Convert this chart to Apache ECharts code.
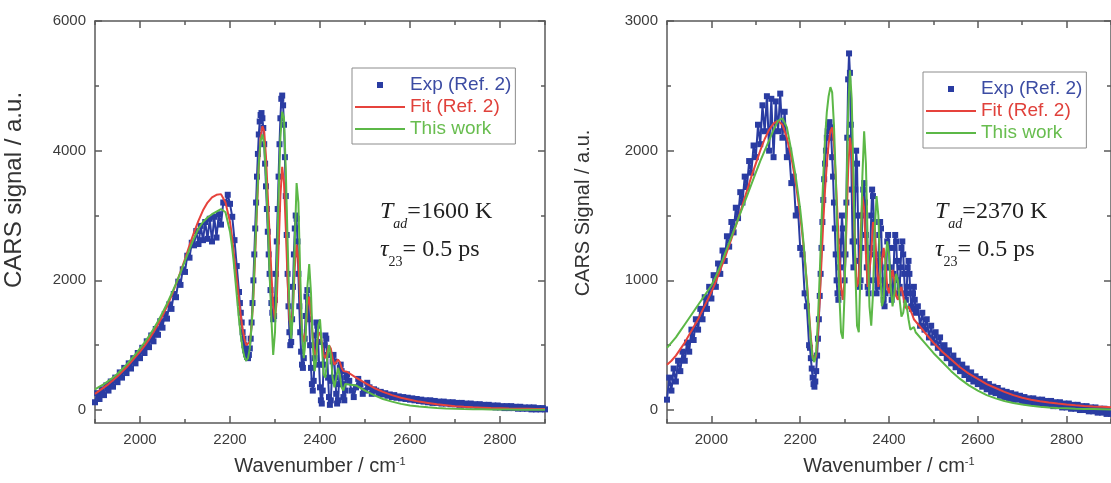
<!DOCTYPE html>
<html>
<head>
<meta charset="utf-8">
<script src="https://cdn.jsdelivr.net/npm/echarts@6/dist/echarts.min.js"></script>
<style>
html,body{margin:0;padding:0;background:#fff}
#c{width:1111px;height:483px}
</style>
</head>
<body>
<div id="c"></div>
<script>
// Wavenumber grid of the measured spectra (cm-1)
const EXP_X = [
1900,1905,1910,1915,1920,1925,1930,1935,1940,1945,
1950,1955,1960,1965,1970,1975,1980,1985,1990,1995,
2000,2005,2010,2015,2020,2025,2030,2035,2040,2045,
2050,2055,2060,2065,2070,2075,2080,2085,2090,2095,
2100,2105,2110,2115,2120,2125,2130,2135,2140,2145,
2150,2155,2160,2165,2170,2175,2180,2185,2190,2195,
2200,2205,2210,2215,2220,
2222,2224,2226,2228,2230,2232,2234,2236,2238,2240,
2242,2244,2246,2248,2250,2252,2254,2256,2258,2260,
2262,2264,2266,2268,2270,2272,2274,2276,2278,2280,
2282,2284,2286,2288,2290,2292,2294,2296,2298,2300,
2302,2304,2306,2308,2310,2312,2314,2316,2318,2320,
2322,2324,2326,2328,2330,2332,2334,2336,2338,2340,
2342,2344,2346,2348,2350,2352,2354,2356,2358,2360,
2362,2364,2366,2368,2370,2372,2374,2376,2378,2380,
2382,2384,2386,2388,2390,2392,2394,2396,2398,2400,
2402,2404,2406,2408,2410,2412,2414,2416,2418,2420,
2422,2424,2426,2428,2430,2432,2434,2436,2438,2440,
2442,2444,2446,2448,2450,2452,2454,2456,2458,2460,
2465,2470,2475,2480,2485,2490,2495,2500,2505,2510,
2515,2520,2525,2530,2535,2540,2545,2550,2555,2560,
2565,2570,2575,2580,2585,2590,2595,2600,2605,2610,
2615,2620,2625,2630,2635,2640,2645,2650,2655,2660,
2665,2670,2675,2680,2685,2690,2695,2700,2705,2710,
2715,2720,2725,2730,2735,2740,2745,2750,2755,2760,
2765,2770,2775,2780,2785,2790,2795,2800,2805,2810,
2815,2820,2825,2830,2835,2840,2845,2850,2855,2860,
2865,2870,2875,2880,2885,2890,2895,2900
];

// Measured CARS signal, T_ad = 1600 K
const EXP_1600 = [
120,260,170,320,230,380,300,440,360,500,
430,580,500,650,570,720,640,800,720,880,
800,960,880,1060,970,1150,1060,1250,1160,1370,
1270,1480,1410,1630,1560,1790,1740,1980,1930,2170,
2130,2380,2350,2580,2540,2760,2560,2840,2620,2900,
2640,2950,2600,2980,2660,3020,2860,3200,3200,3320,
3180,2980,2620,2220,1820,
1650,1500,1350,1200,1100,1000,920,860,820,800,
850,950,1100,1350,1650,2000,2400,2800,3200,3600,
3950,4250,4450,4550,4580,4500,4350,4100,3800,3450,
3100,2750,2400,2100,1850,1650,1500,1400,1450,1700,
2100,2600,3100,3600,4100,4500,4800,4850,4700,4400,
3900,3300,2700,2100,1600,1200,1000,1050,1400,1900,
2400,2800,3000,2950,2600,2100,1600,1200,900,700,
650,800,1100,1450,1750,1850,1700,1400,1000,650,
400,300,450,800,1150,1350,1300,1050,700,350,
150,100,300,700,1000,1150,1100,850,500,200,
80,150,450,750,850,750,500,250,100,150,
400,650,700,600,400,200,150,300,500,550,
450,300,200,350,480,400,250,300,420,350,
250,320,300,250,280,240,260,220,240,200,
230,190,210,180,200,170,190,160,180,150,
170,140,160,130,150,120,150,110,140,110,
130,100,130,100,120,90,120,90,110,80,
110,80,100,70,100,70,90,60,90,60,
80,50,80,50,70,40,70,40,60,30,
60,30,60,30,50,20,50,20,40,20,
40,10,40,10,30,10,30,10
];

// Measured CARS signal, T_ad = 2370 K
const EXP_2370 = [
80,250,150,320,220,380,300,450,380,520,
450,620,540,700,620,780,700,870,780,950,
860,1040,950,1130,1050,1230,1150,1340,1260,1450,
1370,1560,1480,1680,1600,1800,1720,1920,1830,2040,
1950,2200,2050,2350,2150,2420,2000,2400,1950,2380,
2150,2440,2100,2300,1950,2000,1750,1800,1500,1550,
1250,1200,900,800,500,
480,400,320,250,200,180,220,300,420,550,
700,880,1050,1250,1450,1620,1780,1900,2000,2100,
2150,2200,2220,2180,2100,1950,1800,1600,1400,1200,
1000,900,850,900,1100,1300,1500,1400,1200,1000,
1200,1600,2100,2550,2750,2600,2200,1700,1300,1100,
1300,1700,2000,1900,1500,1150,950,1000,1250,1500,
1700,1750,1600,1350,1100,950,900,1000,1250,1500,
1700,1650,1450,1200,1000,900,950,1150,1350,1450,
1400,1200,1000,850,800,900,1100,1300,1350,1250,
1100,950,850,900,1050,1250,1350,1300,1150,1000,
900,950,1100,1250,1300,1200,1050,900,850,950,
1100,1150,1050,900,800,780,900,950,850,750,
800,650,750,620,700,560,650,520,600,480,
560,440,500,400,460,360,420,330,380,300,
350,270,320,240,290,220,260,200,240,180,
220,160,200,140,180,130,170,110,150,100,
140,90,130,80,120,80,110,70,100,60,
90,60,90,50,80,50,80,40,70,40,
70,30,60,30,60,20,50,20,50,10,
40,10,40,0,30,0,30,-10,20,-10,
20,-20,10,-20,10,-30,0,-30
];

// Wavenumber grid of the computed spectra (cm-1)
const LINE_X = [
1900,1910,1920,1930,1940,1950,1960,1970,1980,1990,
2000,2010,2020,2030,2040,2050,2060,2070,2080,2090,
2100,2110,2120,2130,2140,2150,2160,2170,2180,2190,
2200,
2204,2208,2212,2216,2220,2224,2228,2232,2236,2240,
2244,2248,2252,2256,2260,2264,2268,2272,2276,2280,
2284,2288,2292,2296,2300,2304,2308,2312,2316,2320,
2324,2328,2332,2336,2340,2344,2348,2352,2356,2360,
2364,2368,2372,2376,2380,2384,2388,2392,2396,2400,
2404,2408,2412,2416,2420,2424,2428,2432,2436,2440,
2444,2448,2452,2456,2460,
2480,2500,2520,2540,2560,2580,2600,2620,2640,2660,
2680,2700,2720,2740,2760,2780,2800,2820,2840,2860,
2880,2900
];

// Fit from Ref. 2, 1600 K
const FIT_1600 = [
250,300,350,400,460,520,590,660,740,820,
900,990,1090,1200,1320,1450,1600,1760,1940,2130,
2330,2540,2740,2920,3080,3200,3280,3320,3330,3200,
2900,
2700,2450,2200,1950,1700,1450,1250,1100,1000,980,
1050,1300,1750,2400,3100,3750,4200,4380,4300,3900,
3300,2700,2100,1600,1400,1700,2500,3300,3750,3500,
2800,2000,1400,1250,1600,2200,2550,2300,1700,1200,
1050,1200,1600,1750,1500,1100,850,900,1150,1200,
1050,850,800,900,1000,950,800,700,720,780,
740,650,600,600,590,
500,420,340,280,230,190,160,130,110,90,
75,60,50,42,36,30,26,22,20,18,
16,15
];

// This work, 1600 K
const WORK_1600 = [
320,360,400,450,500,560,630,700,780,860,
950,1040,1140,1250,1370,1500,1640,1790,1950,2120,
2300,2480,2650,2800,2900,2970,3020,3060,3100,3050,
2750,
2550,2300,2000,1700,1400,1150,950,820,760,800,
950,1300,1800,2500,3200,3800,4150,4250,4100,3600,
2900,2100,1400,850,1200,2200,3300,4200,4600,4500,
3700,2600,1600,1100,1500,2600,3500,3200,2100,1200,
800,1100,1900,2250,1800,1000,600,800,1300,1400,
1000,550,500,800,1000,850,500,350,500,650,
550,350,300,400,420,
380,300,230,170,130,95,70,55,42,32,
25,20,16,13,11,9,8,7,6,5,
5,5
];

// Fit from Ref. 2, 2370 K
const FIT_2370 = [
350,380,420,470,520,580,640,700,770,840,
910,990,1080,1170,1270,1370,1470,1580,1690,1800,
1900,2000,2090,2160,2210,2230,2200,2100,1950,1750,
1500,
1380,1250,1100,950,750,560,420,380,420,600,
850,1150,1450,1700,1900,2050,2150,2180,2050,1800,
1500,1200,950,850,1000,1400,1850,2100,2000,1600,
1200,950,1000,1350,1650,1550,1200,950,950,1200,
1450,1400,1150,950,950,1150,1250,1150,950,900,
1000,1080,1000,880,850,920,950,880,800,780,
800,790,740,700,690,
600,520,450,390,330,280,240,200,170,140,
115,95,80,68,58,50,43,37,32,28,
25,22
];

// This work, 2370 K
const WORK_2370 = [
480,520,560,610,660,710,760,810,860,910,
960,1030,1110,1200,1290,1380,1470,1560,1650,1740,
1830,1920,2000,2080,2160,2230,2250,2180,2000,1800,
1550,
1420,1270,1100,920,720,530,400,370,450,700,
1050,1450,1800,2100,2300,2420,2490,2450,2200,1800,
1300,900,600,550,900,1600,2300,2620,2400,1800,
1100,650,600,1100,1800,2150,1900,1300,800,650,
900,1400,1650,1500,1100,800,850,1150,1300,1200,
950,800,900,1050,1000,850,720,750,850,800,
700,620,620,640,600,
520,440,370,300,240,190,150,115,90,70,
55,42,33,26,20,16,13,10,8,7,
6,5
];

// Axis ticks
const X_MAJOR = [2000, 2200, 2400, 2600, 2800];
const X_MINOR = [1900, 2100, 2300, 2500, 2700, 2900];
const Y1_MAJOR = [0, 2000, 4000, 6000];
const Y1_MINOR = [1000, 3000, 5000];
const Y2_MAJOR = [0, 1000, 2000, 3000];
const Y2_MINOR = [500, 1500, 2500];

const SANS = 'Liberation Sans';
const SERIF = 'Liberation Serif';
const AXIS = '#5a5a5a';
const LABEL = '#3c3c3c';
const BLUE = '#2a3ca2';
const RED = '#e6433c';
const GREEN = '#5cb847';

const GRIDS = [
  {left: 95, top: 21, width: 450, height: 402},
  {left: 667, top: 21, width: 450, height: 402}
];

function pairs(xs, ys) { return xs.map((x, i) => [x, ys[i]]); }
const plain = v => String(v);

const lineSty = {color: AXIS, width: 1.5};

function xAxesFor(g) {
  const base = {type: 'value', gridIndex: g, min: 1900, max: 2900, splitLine: {show: false},
    axisLine: {show: false, onZero: false}, axisLabel: {show: false}, axisTick: {show: false}};
  return [
    Object.assign({}, base, {
      position: 'bottom',
      axisLine: {show: true, onZero: false, lineStyle: lineSty},
      axisTick: {show: true, inside: true, length: 7, customValues: X_MAJOR, lineStyle: lineSty},
      axisLabel: {show: true, customValues: X_MAJOR, formatter: plain, margin: 9, color: LABEL, fontFamily: SANS, fontSize: 15},
      name: 'Wavenumber / cm{sup|-1}', nameLocation: 'middle', nameGap: 33,
      nameTextStyle: {color: '#333', fontFamily: SANS, fontSize: 20,
        rich: {sup: {color: '#333', fontFamily: SANS, fontSize: 11, verticalAlign: 'top', lineHeight: 12}}}
    }),
    Object.assign({}, base, {position: 'bottom',
      axisTick: {show: true, inside: true, length: 4, customValues: X_MINOR, lineStyle: lineSty}}),
    Object.assign({}, base, {position: 'top',
      axisLine: {show: true, onZero: false, lineStyle: lineSty},
      axisTick: {show: true, inside: true, length: 7, customValues: X_MAJOR, lineStyle: lineSty}}),
    Object.assign({}, base, {position: 'top',
      axisTick: {show: true, inside: true, length: 4, customValues: X_MINOR, lineStyle: lineSty}})
  ];
}

function yAxesFor(g, min, max, major, minor, title, gap, size, shift) {
  const base = {type: 'value', gridIndex: g, min: min, max: max, splitLine: {show: false},
    axisLine: {show: false, onZero: false}, axisLabel: {show: false}, axisTick: {show: false}};
  return [
    Object.assign({}, base, {
      position: 'left',
      axisLine: {show: true, onZero: false, lineStyle: lineSty},
      axisTick: {show: true, inside: true, length: 7, customValues: major, lineStyle: lineSty},
      axisLabel: {show: true, customValues: major, formatter: plain, margin: 9, color: LABEL, fontFamily: SANS, fontSize: 15},
      name: title, nameLocation: 'middle', nameGap: gap,
      nameTextStyle: {color: '#333', fontFamily: SANS, fontSize: size, padding: [0, 0, 0, shift]}
    }),
    Object.assign({}, base, {position: 'left',
      axisTick: {show: true, inside: true, length: 4, customValues: minor, lineStyle: lineSty}}),
    Object.assign({}, base, {position: 'right',
      axisLine: {show: true, onZero: false, lineStyle: lineSty},
      axisTick: {show: true, inside: true, length: 7, customValues: major, lineStyle: lineSty}}),
    Object.assign({}, base, {position: 'right',
      axisTick: {show: true, inside: true, length: 4, customValues: minor, lineStyle: lineSty}})
  ];
}

// measured points are dense: squares joined by a thin trace of the same colour
function seriesFor(ax, exp, fit, work) {
  return [
    {type: 'line', name: 'Exp (Ref. 2)', xAxisIndex: ax, yAxisIndex: ax,
      data: pairs(EXP_X, exp), symbol: 'rect', symbolSize: 6, showSymbol: true, showAllSymbol: true,
      lineStyle: {color: BLUE, width: 2}, itemStyle: {color: BLUE}, z: 2},
    {type: 'line', name: 'Fit (Ref. 2)', xAxisIndex: ax, yAxisIndex: ax,
      data: pairs(LINE_X, fit), showSymbol: false, symbol: 'none',
      lineStyle: {color: RED, width: 2}, itemStyle: {color: RED}, z: 3},
    {type: 'line', name: 'This work', xAxisIndex: ax, yAxisIndex: ax,
      data: pairs(LINE_X, work), showSymbol: false, symbol: 'none',
      lineStyle: {color: GREEN, width: 2}, itemStyle: {color: GREEN}, z: 4}
  ];
}

// legend icons inside a 50x8 box: a small square, and a 2px bar
const DOT = 'path://M0,0M50,8M22,1L28,1L28,7L22,7Z';
const BAR = 'path://M0,0M50,8M0,3L50,3L50,5L0,5Z';

function legendAt(left, top) {
  return {
    orient: 'vertical', left: left, top: top, padding: [7, 4, 5, 3], itemGap: 2,
    itemWidth: 50, itemHeight: 8, borderColor: '#8c8c8c', borderWidth: 1,
    backgroundColor: '#fff', selectedMode: false,
    textStyle: {fontFamily: SANS, fontSize: 19, lineHeight: 20},
    data: [
      {name: 'Exp (Ref. 2)', icon: DOT, textStyle: {color: '#3c4ca3'}},
      {name: 'Fit (Ref. 2)', icon: BAR, textStyle: {color: '#e0413b'}},
      {name: 'This work', icon: BAR, textStyle: {color: '#68bd4f'}}
    ]
  };
}

const RICH = {
  t: {fontFamily: SERIF, fontStyle: 'italic', fontWeight: 'normal', fontSize: 24, color: '#222', lineHeight: 30, verticalAlign: 'top'},
  s: {fontFamily: SERIF, fontStyle: 'italic', fontWeight: 'normal', fontSize: 14, color: '#222', lineHeight: 14, padding: [17, 0, 0, 0], verticalAlign: 'top'},
  u: {fontFamily: SERIF, fontWeight: 'normal', fontSize: 14, color: '#222', lineHeight: 14, padding: [17, 0, 0, 0], verticalAlign: 'top'},
  n: {fontFamily: SERIF, fontWeight: 'normal', fontSize: 24, color: '#222', lineHeight: 30, verticalAlign: 'top'}
};

function notes(left, tempText) {
  return [
    {left: left, top: 200, padding: 0, text: '{t|T}{s|ad}{n|=' + tempText + '}', textStyle: {fontWeight: 'normal', rich: RICH}},
    {left: left, top: 238, padding: 0, text: '{t|τ}{u|23}{n|= 0.5 ps}', textStyle: {fontWeight: 'normal', rich: RICH}}
  ];
}

const chart = echarts.init(document.getElementById('c'), null, {renderer: 'canvas'});
chart.setOption({
  animation: false,
  backgroundColor: '#fff',
  grid: GRIDS,
  title: notes(380, '1600 K').concat(notes(935, '2370 K')),
  legend: [legendAt(352, 68), legendAt(923, 72)],
  xAxis: xAxesFor(0).concat(xAxesFor(1)),
  yAxis: yAxesFor(0, -200, 6000, Y1_MAJOR, Y1_MINOR, 'CARS signal / a.u.', 69, 24, 64)
    .concat(yAxesFor(1, -100, 3000, Y2_MAJOR, Y2_MINOR, 'CARS Signal / a.u.', 74, 20, 18)),
  series: seriesFor(0, EXP_1600, FIT_1600, WORK_1600).concat(seriesFor(4, EXP_2370, FIT_2370, WORK_2370))
});
</script>
</body>
</html>
